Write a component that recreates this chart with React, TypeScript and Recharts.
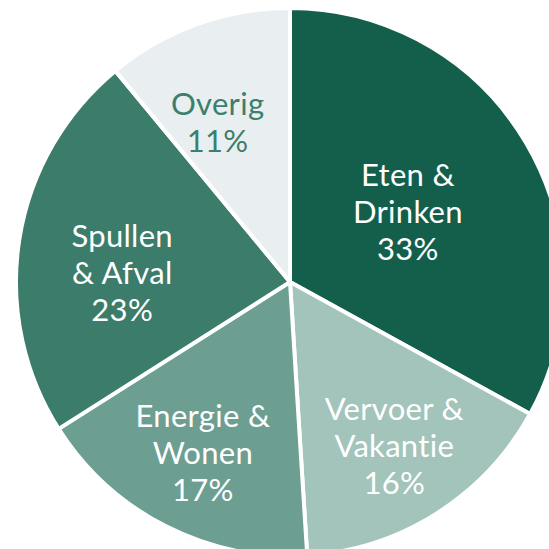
import { Cell, Pie, PieChart } from "recharts"

const categories = ["Eten &\nDrinken", "Vervoer &\nVakantie", "Energie &\nWonen", "Spullen\n& Afval", "Overig"]
const shares = [33, 16, 17, 23, 11]
const colors = ["#145f4c", "#a2c4ba", "#6c9f92", "#3b7c6a", "#e9eff1"]
const labelColors = ["#ffffff", "#ffffff", "#ffffff", "#ffffff", "#3b7f6c"]

const data = categories.map((name, i) => ({ name, value: shares[i] }))

// per-slice label placement tweaks (fraction of radius, nudges)
const labelPos = [
  { r: 0.5, dx: 0, dy: 0 },
  { r: 0.71, dx: 0, dy: 0 },
  { r: 0.7, dx: 0, dy: 0 },
  { r: 0.62, dx: 0, dy: 18 },
  { r: 0.65, dx: -12, dy: 8 },
]

const RAD = Math.PI / 180
const LINE_H = 37

function renderLabel(props: any) {
  const { cx, cy, midAngle, outerRadius, index, name, value } = props
  const pos = labelPos[index]
  const r = outerRadius * pos.r
  const x = cx + r * Math.cos(-midAngle * RAD) + pos.dx
  const y = cy + r * Math.sin(-midAngle * RAD) + pos.dy
  const lines = [...String(name).split("\n"), `${value}%`]
  const firstY = y - ((lines.length - 1) / 2) * LINE_H + 11
  return (
    <text
      x={x}
      y={firstY}
      textAnchor="middle"
      fill={labelColors[index]}
      fontFamily="Lato, 'Open Sans', sans-serif"
      fontWeight={400}
      fontSize={31}
      letterSpacing={0.3}
      style={{ fontVariantLigatures: "none" }}
    >
      {lines.map((line, i) => (
        <tspan key={i} x={x} y={firstY + i * LINE_H}>
          {line}
        </tspan>
      ))}
    </text>
  )
}

export default function App() {
  return (
    <div style={{ position: "absolute", left: 0, top: 0, width: 549, height: 549, background: "#fff" }}>
      <PieChart width={549} height={549} margin={{ top: 0, right: 0, bottom: 0, left: 0 }}>
        <Pie
          data={data}
          dataKey="value"
          nameKey="name"
          cx={290}
          cy={282}
          outerRadius={274}
          startAngle={90}
          endAngle={-270}
          stroke="#ffffff"
          strokeWidth={4}
          label={renderLabel}
          labelLine={false}
          isAnimationActive={false}
        >
          {data.map((d, i) => (
            <Cell key={d.name} fill={colors[i]} />
          ))}
        </Pie>
      </PieChart>
    </div>
  )
}
